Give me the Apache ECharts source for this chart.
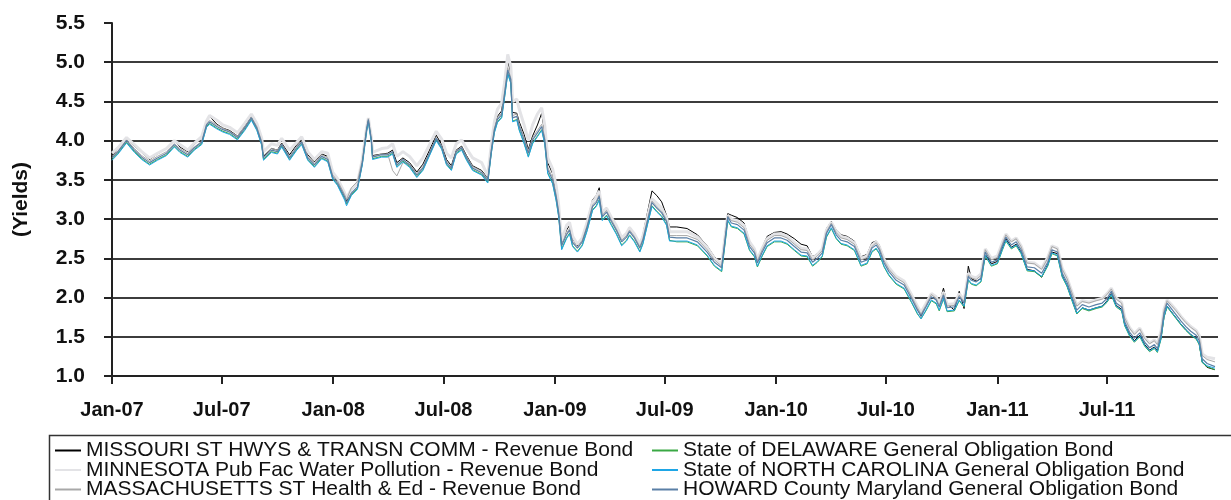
<!DOCTYPE html>
<html><head><meta charset="utf-8">
<script src="https://cdn.jsdelivr.net/npm/echarts@6/dist/echarts.min.js"></script>
<style>html,body{margin:0;padding:0;background:#fff}#c{width:1231px;height:500px}</style>
</head><body><div id="c"></div>
<script>
const MONTHS = ['Jan','Feb','Mar','Apr','May','Jun','Jul','Aug','Sep','Oct','Nov','Dec'];
const Y_TICKS = [1.0,1.5,2.0,2.5,3.0,3.5,4.0,4.5,5.0,5.5];
const NAMES = [
 'MISSOURI ST HWYS & TRANSN COMM - Revenue Bond',
 'MINNESOTA Pub Fac Water Pollution - Revenue Bond',
 'MASSACHUSETTS ST Health & Ed - Revenue Bond',
 'State of DELAWARE General Obligation Bond',
 'State of NORTH CAROLINA General Obligation Bond',
 'HOWARD County Maryland General Obligation Bond'
];
const DATES = [
'2007-01-01','2007-01-11','2007-01-25','2007-02-07','2007-02-19','2007-03-04','2007-03-17','2007-04-01','2007-04-14','2007-04-23',
'2007-05-06','2007-05-17','2007-05-29','2007-06-06','2007-06-11','2007-06-23','2007-07-03','2007-07-14','2007-07-27','2007-08-08',
'2007-08-19','2007-08-28','2007-09-05','2007-09-08','2007-09-21','2007-10-01','2007-10-08','2007-10-21','2007-11-02','2007-11-10',
'2007-11-20','2007-12-01','2007-12-13','2007-12-23','2007-12-31','2008-01-08','2008-01-20','2008-01-23','2008-01-31','2008-02-10',
'2008-02-18','2008-02-25','2008-02-28','2008-03-04','2008-03-06','2008-03-21','2008-03-31','2008-04-08','2008-04-15','2008-04-25',
'2008-05-06','2008-05-18','2008-05-28','2008-06-08','2008-06-19','2008-06-28','2008-07-06','2008-07-14','2008-07-22','2008-07-31',
'2008-08-08','2008-08-18','2008-09-02','2008-09-12','2008-09-18','2008-09-23','2008-09-28','2008-10-05','2008-10-10','2008-10-15',
'2008-10-20','2008-10-23','2008-10-30','2008-11-03','2008-11-11','2008-11-18','2008-11-25','2008-12-03','2008-12-10','2008-12-15',
'2008-12-20','2008-12-28','2009-01-03','2009-01-07','2009-01-12','2009-01-20','2009-01-25','2009-01-30','2009-02-07','2009-02-15',
'2009-02-23','2009-03-04','2009-03-10','2009-03-15','2009-03-20','2009-03-27','2009-04-04','2009-04-12','2009-04-21','2009-04-29',
'2009-05-04','2009-05-12','2009-05-21','2009-05-26','2009-06-03','2009-06-10','2009-06-18','2009-06-26','2009-07-04','2009-07-09',
'2009-07-21','2009-08-07','2009-08-24','2009-09-09','2009-09-21','2009-10-03','2009-10-08','2009-10-13','2009-10-19','2009-10-29',
'2009-11-09','2009-11-18','2009-11-26','2009-12-01','2009-12-09','2009-12-17','2009-12-29','2010-01-09','2010-01-19','2010-01-31',
'2010-02-11','2010-02-21','2010-03-02','2010-03-10','2010-03-18','2010-03-25','2010-04-02','2010-04-10','2010-04-18','2010-04-28',
'2010-05-10','2010-05-21','2010-05-31','2010-06-08','2010-06-15','2010-06-20','2010-06-28','2010-07-06','2010-07-18','2010-07-31',
'2010-08-12','2010-08-22','2010-08-28','2010-09-05','2010-09-14','2010-09-22','2010-09-27','2010-10-04','2010-10-10','2010-10-22',
'2010-10-30','2010-11-07','2010-11-14','2010-11-19','2010-11-27','2010-12-05','2010-12-12','2010-12-22','2011-01-01','2011-01-09',
'2011-01-15','2011-01-24','2011-02-01','2011-02-09','2011-02-19','2011-03-03','2011-03-15','2011-03-25','2011-04-01','2011-04-10',
'2011-04-18','2011-04-26','2011-05-04','2011-05-12','2011-05-21','2011-06-01','2011-06-13','2011-06-23','2011-07-01','2011-07-08',
'2011-07-16','2011-07-25','2011-07-30','2011-08-07','2011-08-15','2011-08-24','2011-09-01','2011-09-09','2011-09-17','2011-09-22',
'2011-09-28','2011-10-03','2011-10-08','2011-10-15','2011-10-23','2011-10-31','2011-11-08','2011-11-16','2011-11-25','2011-11-30',
'2011-12-05','2011-12-13','2011-12-26'
];
const MISSOURI = [
3.80,3.90,4.03,3.93,3.85,3.76,3.83,3.90,4.00,3.92,
3.86,3.95,4.04,4.25,4.31,4.21,4.16,4.13,4.06,4.18,
4.31,4.18,3.99,3.80,3.90,3.88,3.97,3.82,3.95,4.01,
3.82,3.73,3.83,3.80,3.58,3.50,3.30,3.23,3.37,3.45,
3.74,4.15,4.28,4.02,3.81,3.83,3.84,3.88,3.72,3.78,
3.72,3.60,3.70,3.88,4.07,3.95,3.76,3.68,3.88,3.93,
3.81,3.68,3.62,3.52,3.90,4.17,4.31,4.38,4.70,5.03,
4.85,4.36,4.35,4.24,4.08,3.89,4.06,4.20,4.35,4.10,
3.72,3.58,3.33,3.12,2.70,2.86,2.92,2.75,2.66,2.74,
2.96,3.25,3.30,3.40,3.10,3.14,3.02,2.91,2.76,2.82,
2.90,2.82,2.68,2.80,3.10,3.36,3.30,3.22,3.05,2.90,
2.90,2.88,2.80,2.66,2.52,2.43,2.78,3.07,3.05,3.02,
2.95,2.72,2.63,2.50,2.64,2.78,2.83,2.84,2.81,2.75,
2.68,2.66,2.52,2.56,2.62,2.88,2.97,2.86,2.80,2.78,
2.72,2.52,2.55,2.70,2.72,2.67,2.50,2.38,2.27,2.20,
2.02,1.86,1.76,1.90,2.05,2.00,1.92,2.12,1.92,1.84,
2.08,1.86,2.40,2.24,2.21,2.24,2.55,2.43,2.46,2.63,
2.75,2.64,2.68,2.58,2.36,2.34,2.26,2.42,2.58,2.56,
2.28,2.15,1.98,1.80,1.87,1.84,1.87,1.89,1.96,2.05,
1.90,1.85,1.66,1.53,1.45,1.52,1.40,1.33,1.37,1.32,
1.49,1.76,1.89,1.82,1.74,1.66,1.59,1.53,1.48,1.41,
1.18,1.11,1.08
];
const MINNESOTA = [
3.84,3.91,4.04,3.95,3.86,3.78,3.84,3.90,4.00,3.95,
3.88,3.97,4.05,4.25,4.32,4.26,4.20,4.17,4.10,4.22,
4.34,4.22,4.03,3.86,3.96,3.94,4.03,3.88,3.98,4.05,
3.86,3.76,3.86,3.84,3.60,3.52,3.33,3.27,3.38,3.46,
3.76,4.16,4.29,4.04,3.85,3.90,3.91,3.96,3.80,3.86,
3.80,3.68,3.78,3.95,4.12,4.02,3.84,3.78,3.96,4.01,
3.90,3.78,3.72,3.55,3.96,4.24,4.40,4.48,4.75,5.10,
4.95,4.50,4.53,4.40,4.20,4.00,4.20,4.34,4.42,4.20,
3.78,3.64,3.42,3.18,2.72,2.92,2.96,2.78,2.68,2.76,
2.96,3.22,3.28,3.36,3.08,3.14,3.02,2.92,2.76,2.82,
2.89,2.81,2.68,2.78,3.04,3.26,3.20,3.14,3.02,2.84,
2.84,2.84,2.77,2.64,2.50,2.43,2.74,3.05,3.00,2.98,
2.92,2.71,2.62,2.49,2.63,2.75,2.81,2.81,2.78,2.70,
2.63,2.62,2.50,2.55,2.62,2.86,2.96,2.84,2.78,2.76,
2.70,2.50,2.53,2.67,2.71,2.65,2.49,2.38,2.27,2.21,
2.04,1.89,1.81,1.92,2.05,2.01,1.92,2.07,1.91,1.92,
2.05,1.97,2.31,2.27,2.25,2.30,2.62,2.50,2.53,2.70,
2.81,2.72,2.76,2.66,2.45,2.44,2.37,2.51,2.66,2.63,
2.37,2.25,2.07,1.90,1.96,1.94,1.97,1.99,2.05,2.12,
1.99,1.94,1.75,1.62,1.54,1.61,1.49,1.42,1.46,1.41,
1.57,1.85,1.97,1.91,1.84,1.76,1.69,1.63,1.58,1.52,
1.28,1.24,1.22
];
const MASSACHUSETTS = [
3.80,3.87,4.01,3.90,3.81,3.74,3.80,3.86,3.96,3.90,
3.84,3.92,3.99,4.21,4.26,4.20,4.16,4.12,4.06,4.18,
4.30,4.18,3.99,3.81,3.90,3.88,3.96,3.80,3.93,3.99,
3.80,3.71,3.82,3.78,3.56,3.49,3.31,3.25,3.40,3.48,
3.75,4.15,4.28,4.02,3.80,3.83,3.83,3.62,3.55,3.72,
3.70,3.58,3.67,3.85,4.04,3.93,3.73,3.66,3.87,3.92,
3.80,3.67,3.61,3.51,3.90,4.16,4.29,4.35,4.64,4.93,
4.80,4.32,4.34,4.21,4.04,3.87,4.04,4.13,4.21,4.04,
3.66,3.53,3.31,3.10,2.68,2.82,2.88,2.72,2.65,2.73,
2.92,3.18,3.23,3.31,3.05,3.11,2.99,2.88,2.73,2.79,
2.86,2.78,2.65,2.75,3.01,3.23,3.16,3.10,2.99,2.79,
2.79,2.79,2.74,2.61,2.48,2.40,2.72,3.04,2.98,2.96,
2.89,2.68,2.60,2.47,2.61,2.73,2.79,2.79,2.76,2.68,
2.61,2.60,2.48,2.53,2.60,2.84,2.95,2.83,2.76,2.74,
2.68,2.48,2.51,2.65,2.70,2.64,2.47,2.36,2.25,2.19,
2.02,1.87,1.79,1.90,2.04,1.99,1.90,2.05,1.89,1.90,
2.03,1.95,2.29,2.25,2.23,2.28,2.61,2.48,2.51,2.68,
2.80,2.71,2.75,2.65,2.44,2.43,2.36,2.50,2.65,2.62,
2.36,2.24,2.06,1.89,1.95,1.93,1.96,1.98,2.04,2.11,
1.98,1.93,1.74,1.61,1.53,1.60,1.48,1.41,1.45,1.40,
1.56,1.84,1.96,1.90,1.83,1.75,1.68,1.62,1.57,1.50,
1.26,1.21,1.18
];
const DELAWARE = [
3.76,3.84,3.98,3.86,3.77,3.70,3.76,3.82,3.93,3.86,
3.80,3.89,3.96,4.18,4.22,4.16,4.12,4.09,4.02,4.14,
4.27,4.14,3.95,3.76,3.86,3.84,3.93,3.76,3.89,3.96,
3.76,3.67,3.78,3.74,3.52,3.44,3.26,3.19,3.31,3.39,
3.70,4.12,4.25,3.99,3.77,3.80,3.80,3.84,3.67,3.74,
3.67,3.54,3.63,3.82,4.01,3.90,3.70,3.63,3.84,3.89,
3.76,3.63,3.57,3.47,3.85,4.11,4.24,4.30,4.57,4.86,
4.74,4.25,4.27,4.14,3.97,3.80,3.97,4.06,4.14,3.97,
3.59,3.46,3.24,3.04,2.62,2.76,2.82,2.66,2.59,2.67,
2.86,3.12,3.17,3.25,2.99,3.05,2.93,2.82,2.67,2.73,
2.80,2.72,2.59,2.69,2.95,3.17,3.10,3.04,2.93,2.73,
2.71,2.71,2.66,2.53,2.40,2.33,2.65,2.98,2.90,2.88,
2.81,2.60,2.52,2.39,2.53,2.65,2.71,2.71,2.68,2.60,
2.53,2.52,2.40,2.45,2.52,2.77,2.88,2.75,2.68,2.66,
2.60,2.40,2.43,2.58,2.62,2.56,2.39,2.28,2.17,2.11,
1.94,1.79,1.73,1.83,1.96,1.92,1.83,1.98,1.82,1.83,
1.96,1.88,2.22,2.17,2.15,2.20,2.53,2.40,2.43,2.60,
2.72,2.62,2.66,2.56,2.34,2.33,2.26,2.40,2.56,2.53,
2.26,2.14,1.96,1.79,1.86,1.83,1.86,1.88,1.94,2.03,
1.88,1.83,1.64,1.51,1.43,1.50,1.38,1.31,1.35,1.30,
1.47,1.75,1.88,1.81,1.73,1.65,1.58,1.52,1.47,1.40,
1.17,1.12,1.08
];
const NORTH_CAROLINA = [
3.75,3.83,3.97,3.85,3.76,3.69,3.75,3.81,3.92,3.85,
3.79,3.88,3.95,4.17,4.21,4.15,4.11,4.08,4.01,4.13,
4.26,4.13,3.94,3.75,3.85,3.83,3.92,3.75,3.88,3.95,
3.75,3.66,3.77,3.73,3.51,3.43,3.24,3.17,3.30,3.38,
3.69,4.11,4.24,3.98,3.76,3.79,3.79,3.83,3.66,3.73,
3.66,3.53,3.62,3.81,4.00,3.89,3.69,3.62,3.83,3.88,
3.75,3.62,3.56,3.46,3.84,4.10,4.23,4.29,4.56,4.85,
4.73,4.24,4.26,4.13,3.96,3.79,3.96,4.05,4.13,3.96,
3.58,3.45,3.23,3.03,2.61,2.75,2.81,2.65,2.58,2.66,
2.85,3.11,3.16,3.24,2.98,3.04,2.92,2.81,2.66,2.72,
2.79,2.71,2.58,2.68,2.94,3.16,3.09,3.03,2.92,2.72,
2.72,2.72,2.67,2.54,2.41,2.34,2.66,2.99,2.91,2.89,
2.82,2.61,2.53,2.40,2.54,2.66,2.72,2.72,2.69,2.61,
2.54,2.53,2.41,2.46,2.53,2.78,2.89,2.76,2.69,2.67,
2.61,2.41,2.44,2.59,2.63,2.57,2.40,2.29,2.18,2.12,
1.95,1.80,1.73,1.84,1.97,1.93,1.84,1.99,1.83,1.84,
1.97,1.89,2.23,2.18,2.16,2.21,2.54,2.41,2.44,2.61,
2.73,2.63,2.67,2.57,2.35,2.34,2.27,2.41,2.57,2.54,
2.27,2.15,1.97,1.80,1.87,1.84,1.87,1.89,1.95,2.04,
1.89,1.84,1.65,1.52,1.44,1.51,1.39,1.32,1.36,1.31,
1.48,1.76,1.89,1.82,1.74,1.66,1.59,1.53,1.48,1.41,
1.18,1.13,1.10
];
const HOWARD = [
3.78,3.86,4.00,3.88,3.79,3.72,3.78,3.84,3.95,3.88,
3.82,3.91,3.98,4.20,4.24,4.18,4.14,4.11,4.04,4.16,
4.29,4.16,3.97,3.78,3.88,3.86,3.95,3.78,3.91,3.98,
3.78,3.69,3.80,3.76,3.54,3.46,3.28,3.21,3.33,3.41,
3.72,4.14,4.27,4.01,3.79,3.82,3.82,3.86,3.69,3.76,
3.69,3.56,3.65,3.84,4.03,3.92,3.72,3.65,3.86,3.91,
3.78,3.65,3.59,3.49,3.88,4.14,4.27,4.33,4.61,4.90,
4.78,4.29,4.31,4.18,4.01,3.84,4.01,4.10,4.18,4.01,
3.63,3.50,3.28,3.08,2.66,2.80,2.86,2.70,2.63,2.71,
2.90,3.16,3.21,3.29,3.03,3.09,2.97,2.86,2.71,2.77,
2.84,2.76,2.63,2.73,2.99,3.21,3.14,3.08,2.97,2.77,
2.76,2.76,2.71,2.58,2.45,2.38,2.70,3.03,2.95,2.93,
2.86,2.65,2.57,2.44,2.58,2.70,2.76,2.76,2.73,2.65,
2.58,2.57,2.45,2.50,2.57,2.82,2.93,2.80,2.73,2.71,
2.65,2.45,2.48,2.63,2.67,2.61,2.44,2.33,2.22,2.16,
1.99,1.84,1.77,1.88,2.01,1.97,1.88,2.03,1.87,1.88,
2.01,1.93,2.27,2.22,2.20,2.25,2.58,2.45,2.48,2.65,
2.77,2.67,2.71,2.61,2.39,2.38,2.31,2.45,2.61,2.58,
2.31,2.19,2.01,1.84,1.91,1.88,1.91,1.93,1.99,2.08,
1.93,1.88,1.69,1.56,1.48,1.55,1.43,1.36,1.40,1.35,
1.52,1.80,1.93,1.86,1.78,1.70,1.63,1.57,1.52,1.45,
1.22,1.16,1.12
];
const VALUES = [MISSOURI, MINNESOTA, MASSACHUSETTS, DELAWARE, NORTH_CAROLINA, HOWARD];
const COLORS = ['#000000','#e3e3e6','#a8a8a8','#3aa845','#1ea6e6','#5a7fa6'];
const WIDTHS = [1,3,1,1,1,1.2];

const chart = echarts.init(document.getElementById('c'), null, {renderer:'canvas'});
const FONT = 'Liberation Sans, Arial, sans-serif';
const series = NAMES.map((n,k)=>({
  name:n, type:'line', symbol:'none', showSymbol:false, animation:false,
  data: DATES.map((d,i)=>[d, VALUES[k][i]]),
  lineStyle:{color:COLORS[k], width:WIDTHS[k]}, itemStyle:{color:COLORS[k]}
}));
const legendCommon = {
  orient:'vertical', itemGap:-1.5, itemWidth:26, itemHeight:2, icon:'rect',
  padding:0, height:80, width:600,
  textStyle:{fontFamily:FONT, fontSize:21, color:'#111'},
  selectedMode:false
};
chart.setOption({
  animation:false,
  backgroundColor:'#fff',
  grid:{left:112, right:13, top:23, bottom:124, containLabel:false},
  legend:[
    Object.assign({left:55, top:440, data:NAMES.slice(0,3)}, legendCommon),
    Object.assign({left:652, top:440, data:NAMES.slice(3)}, legendCommon)
  ],
  graphic:[{type:'rect', left:47, top:433, shape:{width:1200, height:80},
    style:{fill:'none', stroke:'#333', lineWidth:1.5}, silent:true}],
  xAxis:{
    type:'time', min:'2007-01-01', max:'2011-12-31', splitNumber:10,
    minInterval:182*86400000, maxInterval:184*86400000,
    axisLine:{lineStyle:{color:'#222', width:2}},
    axisTick:{show:true, length:8, lineStyle:{color:'#222', width:2}},
    splitLine:{show:false},
    axisLabel:{margin:24, fontFamily:FONT, fontSize:20, fontWeight:'bold', color:'#111',
      showMaxLabel:false,
      formatter:function(v){const d=new Date(v);return MONTHS[d.getMonth()]+'-'+String(d.getFullYear()).slice(2);}}
  },
  yAxis:{
    type:'value', min:Y_TICKS[0], max:Y_TICKS[Y_TICKS.length-1], interval:0.5,
    name:'(Yields)', nameLocation:'middle', nameGap:80, nameRotate:90,
    nameTextStyle:{fontFamily:FONT, fontSize:21, fontWeight:'bold', color:'#111'},
    axisLine:{show:true, lineStyle:{color:'#222', width:2}},
    axisTick:{show:true, length:8, lineStyle:{color:'#222', width:2}},
    splitLine:{show:true, showMaxLine:false, lineStyle:{color:'#3c3c3c', width:2}},
    axisLabel:{margin:27, fontFamily:FONT, fontSize:21, fontWeight:'bold', color:'#111',
      formatter:function(v){return v.toFixed(1);}}
  },
  series:series
});
</script></body></html>
